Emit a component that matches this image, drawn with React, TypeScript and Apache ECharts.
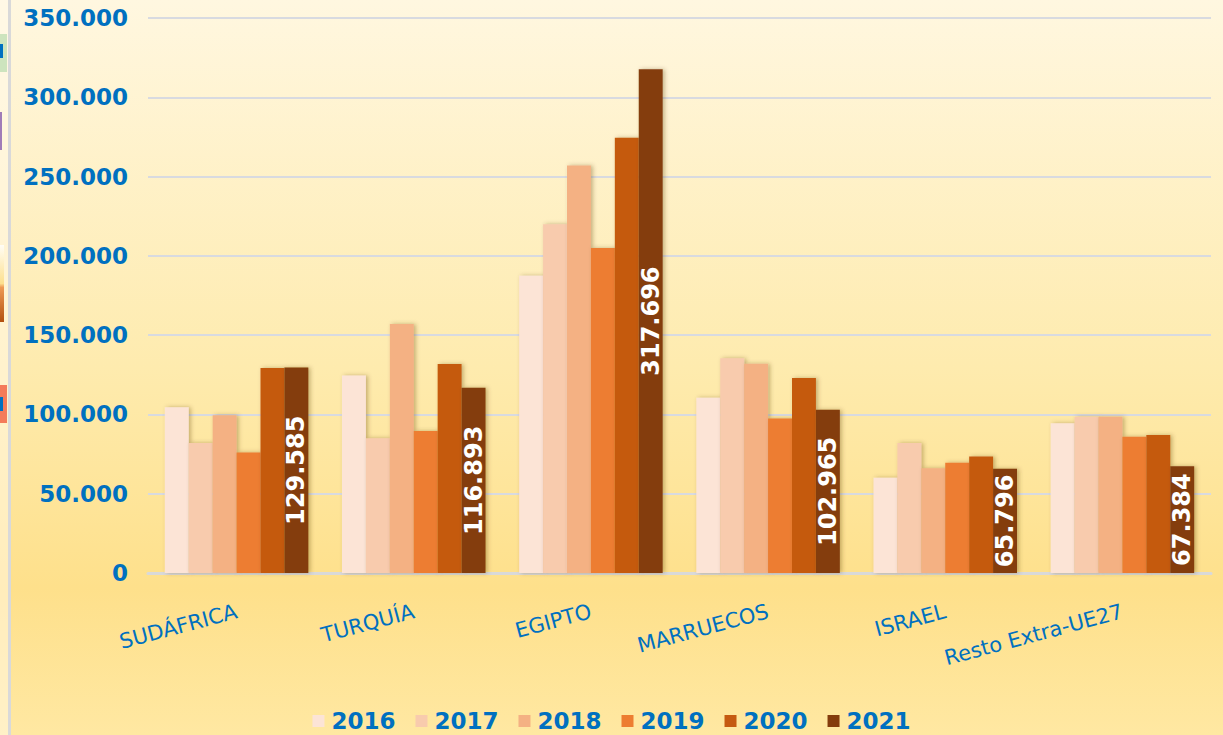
import React, { useEffect, useRef } from "react";
import * as echarts from "echarts";

const categories = ["SUDÁFRICA", "TURQUÍA", "EGIPTO", "MARRUECOS", "ISRAEL", "Resto Extra-UE27"];
const years = ["2016", "2017", "2018", "2019", "2020", "2021"];
const v2016 = [104500, 124500, 187500, 110500, 60000, 94500];
const v2017 = [82000, 85000, 220000, 135500, 82000, 98500];
const v2018 = [99500, 157000, 257000, 132000, 66000, 98500];
const v2019 = [76000, 89500, 205000, 97500, 69500, 86000];
const v2020 = [129300, 131800, 274500, 123000, 73500, 87000];
const v2021 = [129585, 116893, 317696, 102965, 65796, 67384];
const yTicks = { min: 0, max: 350000, interval: 50000 };
const colors = ["#FCE4D6", "#F8CBAD", "#F4B183", "#ED7D31", "#C55A11", "#843C0C"];

const fmt = (v: number) => String(Math.round(v)).replace(/\B(?=(\d{3})+(?!\d))/g, ".");

export default function App() {
  const ref = useRef<HTMLDivElement>(null);
  useEffect(() => {
    if (!ref.current) return;
    const chart = echarts.init(ref.current, null, { renderer: "svg" });
    const values = [v2016, v2017, v2018, v2019, v2020, v2021];
    const font = "DejaVu Sans";
    chart.setOption({
      animation: false,
      backgroundColor: new echarts.graphic.LinearGradient(0, 0, 0, 1, [
        { offset: 0, color: "#FFF7E0" },
        { offset: 0.5, color: "#FEEBAE" },
        { offset: 0.8, color: "#FEE08B" },
        { offset: 1, color: "#FFE8A2" },
      ]),
      textStyle: { fontFamily: font },
      grid: { left: 148, right: 12, top: 18, bottom: 162 },
      legend: {
        data: years,
        top: 709,
        left: "center",
        padding: 0,
        itemWidth: 12,
        itemHeight: 12,
        itemGap: 20,
        icon: "rect",
        textStyle: {
          color: "#0070C0",
          fontSize: 23,
          lineHeight: 24,
          fontWeight: "bold",
          fontFamily: font,
          padding: [0, 0, 0, 2],
        },
      },
      xAxis: {
        type: "category",
        data: categories,
        axisTick: { show: false },
        axisLine: { lineStyle: { color: "#D9D9D9", width: 3 } },
        axisLabel: {
          rotate: 15,
          margin: 38,
          color: "#0070C0",
          fontSize: 21,
          fontFamily: font,
          interval: 0,
        },
      },
      yAxis: {
        type: "value",
        ...yTicks,
        axisLine: { show: false },
        axisTick: { show: false },
        splitLine: { lineStyle: { color: "#D8DAE0", width: 2 } },
        axisLabel: {
          margin: 20,
          color: "#0070C0",
          fontSize: 23,
          fontWeight: "bold",
          fontFamily: font,
          formatter: (v: number) => fmt(v),
        },
      },
      series: years.map((y, i) => ({
        name: y,
        type: "bar",
        data: values[i],
        barGap: "0%",
        barCategoryGap: "19%",
        itemStyle: {
          color: colors[i],
          shadowColor: "rgba(90,60,0,0.35)",
          shadowBlur: 4,
          shadowOffsetX: 2,
          shadowOffsetY: 0,
        },
        label:
          i === 5
            ? {
                show: true,
                position: "inside",
                rotate: 90,
                color: "#FFFFFF",
                fontSize: 24,
                fontWeight: "bold",
                fontFamily: font,
                formatter: (p: any) => fmt(p.value),
              }
            : { show: false },
      })),
      graphic: [
        { type: "rect", shape: { x: 0, y: 0, width: 8, height: 735 }, style: { fill: "rgba(255,250,235,0.5)" }, silent: true },
        { type: "rect", shape: { x: 8, y: 0, width: 3, height: 735 }, style: { fill: "#D9D9D9" }, silent: true },
        { type: "rect", shape: { x: 0, y: 34, width: 7, height: 38 }, style: { fill: "#CDE4BE" }, silent: true },
        { type: "rect", shape: { x: 0, y: 44, width: 3, height: 14 }, style: { fill: "#0070C0" }, silent: true },
        { type: "rect", shape: { x: 0, y: 112, width: 2, height: 38 }, style: { fill: "#A07CB8" }, silent: true },
        {
          type: "rect",
          shape: { x: 0, y: 245, width: 4, height: 77 },
          style: {
            fill: new echarts.graphic.LinearGradient(0, 0, 0, 1, [
              { offset: 0, color: "#FFFDF5" },
              { offset: 0.5, color: "#FDE08E" },
              { offset: 0.55, color: "#EE9A55" },
              { offset: 1, color: "#B2500E" },
            ]),
          },
          silent: true,
        },
        { type: "rect", shape: { x: 0, y: 385, width: 7, height: 38 }, style: { fill: "#F47B5A" }, silent: true },
        { type: "rect", shape: { x: 0, y: 397, width: 3, height: 14 }, style: { fill: "#0070C0" }, silent: true },
      ],
    });
    return () => chart.dispose();
  }, []);
  return <div ref={ref} style={{ position: "fixed", left: 0, top: 0, width: 1223, height: 735 }} />;
}
